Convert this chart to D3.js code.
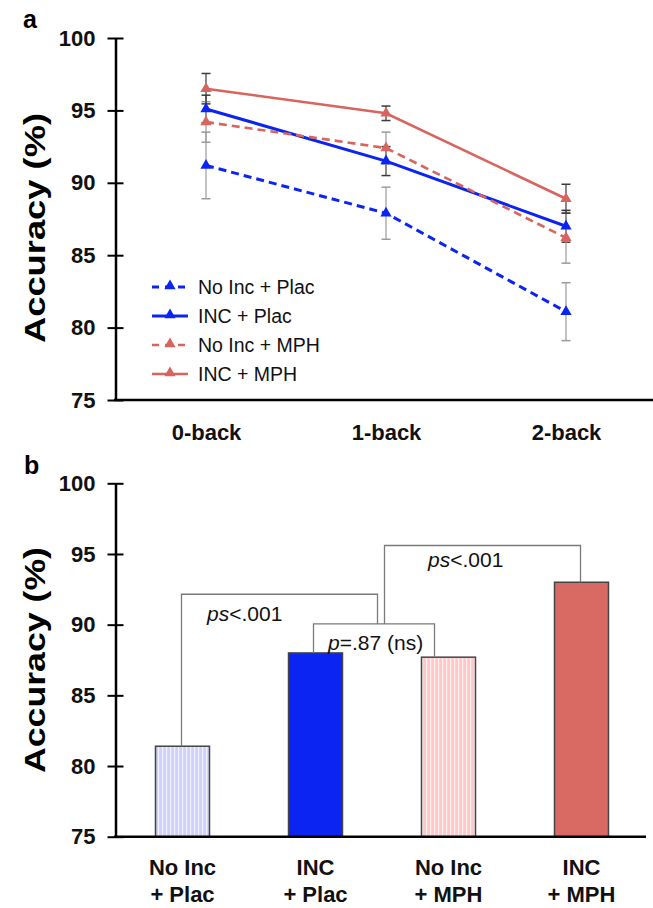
<!DOCTYPE html>
<html><head><meta charset="utf-8">
<script src="https://cdn.jsdelivr.net/npm/d3@7/dist/d3.min.js"></script>
<style>body{margin:0;background:#fff}svg{display:block}text{font-family:Arial,"Liberation Sans",sans-serif}</style>
</head><body><svg id="c" width="653" height="908"></svg>
<script>
// ---------- data ----------
const conditions = ["0-back", "1-back", "2-back"];
const seriesNames = ["No Inc + Plac", "INC + Plac", "No Inc + MPH", "INC + MPH"];
const noIncPlac = [91.2, 87.9, 81.1];
const incPlac   = [95.1, 91.5, 87.0];
const noIncMph  = [94.2, 92.4, 86.2];
const incMph    = [96.5, 94.8, 88.9];
const errNoIncPlac = [2.3, 1.8, 2.0];
const errIncPlac   = [0.95, 1.0, 1.1];
const errNoIncMph  = [1.4, 1.1, 1.75];
const errIncMph    = [1.05, 0.5, 1.0];
const yTicks = [75, 80, 85, 90, 95, 100];

const groups = ["No Inc|+ Plac", "INC|+ Plac", "No Inc|+ MPH", "INC|+ MPH"];
const groupMeans = [81.4, 88.0, 87.7, 93.0];
const statLabels = ["ps<.001", "p=.87 (ns)", "ps<.001"];

const BLUE = "#0b24f2", RED = "#d8645e";

const svg = d3.select("#c");
const defs = svg.append("defs");
function stripes(id, bg, line) {
  const p = defs.append("pattern").attr("id", id).attr("patternUnits", "userSpaceOnUse")
    .attr("width", 4).attr("height", 10);
  p.append("rect").attr("width", 4).attr("height", 10).attr("fill", bg);
  p.append("rect").attr("x", 2).attr("width", 1.2).attr("height", 10).attr("fill", line);
}
stripes("stB", "#cfd0fb", "#f2f2ff");
stripes("stR", "#ffc9c9", "#fff0f0");

// ---------- panel a ----------
const series = [
  {name: seriesNames[0], v: noIncPlac, e: errNoIncPlac, color: BLUE, dash: "8,5", w: 3, ec: "#9a9a9a"},
  {name: seriesNames[1], v: incPlac,   e: errIncPlac,   color: BLUE, dash: null,  w: 3, ec: "#3a3a3a"},
  {name: seriesNames[2], v: noIncMph,  e: errNoIncMph,  color: RED,  dash: "8,5", w: 2.6, ec: "#9a9a9a"},
  {name: seriesNames[3], v: incMph,    e: errIncMph,    color: RED,  dash: null,  w: 2.6, ec: "#3a3a3a"}
];
const xa = d3.scalePoint().domain(conditions).range([116, 656]).padding(0.5);
const ya = d3.scaleLinear().domain([75, 100]).range([400, 38]);

const gA = svg.append("g");
// error bars
series.forEach(s => {
  const g = gA.append("g");
  conditions.forEach((c, i) => {
    const x = xa(c), y1 = ya(s.v[i] + s.e[i]), y2 = ya(s.v[i] - s.e[i]);
    g.append("line").attr("x1", x).attr("x2", x).attr("y1", y1).attr("y2", y2)
      .attr("stroke", s.ec).attr("stroke-width", 1.2);
    [y1, y2].forEach(yy => g.append("line").attr("x1", x - 4.5).attr("x2", x + 4.5)
      .attr("y1", yy).attr("y2", yy).attr("stroke", s.ec).attr("stroke-width", 1.5));
  });
});
const line = d3.line().x((d, i) => xa(conditions[i])).y(d => ya(d));
const tri = d3.symbol().type(d3.symbolTriangle).size(55);
series.forEach(s => {
  gA.append("path").datum(s.v).attr("d", line).attr("fill", "none")
    .attr("stroke", s.color).attr("stroke-width", s.w)
    .attr("stroke-dasharray", s.dash);
  gA.selectAll(null).data(s.v).join("path").attr("d", tri)
    .attr("transform", (d, i) => `translate(${xa(conditions[i])},${ya(d)})`)
    .attr("fill", s.color);
});

// axes a
const axA = gA.append("g").attr("transform", "translate(115.5,0)")
  .call(d3.axisLeft(ya).tickValues(yTicks).tickSize(8).tickPadding(12).tickSizeOuter(0));
axA.select(".domain").attr("stroke-width", 2.5);
axA.selectAll(".tick line").attr("x1", 8).attr("x2", -8).attr("stroke-width", 2);
axA.selectAll("text").attr("font-size", 22).attr("font-weight", "bold").attr("fill", "#111");

const axAx = gA.append("g").attr("transform", "translate(0,400)")
  .call(d3.axisBottom(xa).tickSize(0).tickPadding(24));
axAx.select(".domain").attr("d", "M114,0H653").attr("stroke-width", 2.5);
axAx.selectAll("text").attr("font-size", 22).attr("font-weight", "bold").attr("fill", "#111");

gA.append("text").attr("x", 23).attr("y", 28).attr("font-size", 25).attr("font-weight", "bold").text("a");
gA.append("text").attr("transform", "translate(45,228) rotate(-90)").attr("text-anchor", "middle")
  .attr("font-size", 29).attr("font-weight", "bold").attr("textLength", 230)
  .attr("lengthAdjust", "spacingAndGlyphs").text("Accuracy (%)");

// legend
const leg = gA.append("g");
series.forEach((s, i) => {
  const y = 287 + i * 29;
  leg.append("line").attr("x1", 152).attr("x2", 188).attr("y1", y).attr("y2", y)
    .attr("stroke", s.color).attr("stroke-width", s.w).attr("stroke-dasharray", s.dash ? "7,6" : null);
  leg.append("path").attr("d", tri).attr("transform", `translate(170,${y - 1})`).attr("fill", s.color);
  leg.append("text").attr("x", 198).attr("y", y + 7).attr("font-size", 19.5).attr("fill", "#111").text(s.name);
});

// ---------- panel b ----------
const xb = d3.scaleBand().domain(groups).range([116, 648]).paddingInner(0.594).paddingOuter(0.297);
const yb = d3.scaleLinear().domain([75, 100]).range([836.7, 483.3]);
const gB = svg.append("g");
const fills = ["url(#stB)", BLUE, "url(#stR)", "#d96963"];
gB.selectAll(null).data(groupMeans).join("rect")
  .attr("x", (d, i) => xb(groups[i])).attr("width", xb.bandwidth())
  .attr("y", d => yb(d)).attr("height", d => yb(75) - yb(d))
  .attr("fill", (d, i) => fills[i]).attr("stroke", "#444").attr("stroke-width", 1.5);

// brackets
const cx = i => xb(groups[i]) + xb.bandwidth() / 2;
const bc = "#7a7a7a";
const h2 = yb(90.05), h1 = yb(92.15), h3 = yb(95.6);
const brk = [
  [[cx(1) - 2, yb(groupMeans[1])], [cx(1) - 2, h2], [cx(2) - 14, h2], [cx(2) - 14, yb(groupMeans[2])]],
  [[cx(0) - 1, yb(groupMeans[0])], [cx(0) - 1, h1], [cx(1) + 62, h1], [cx(1) + 62, h2]],
  [[cx(1) + 69, h2], [cx(1) + 69, h3], [cx(3) - 1, h3], [cx(3) - 1, yb(groupMeans[3])]]
];
brk.forEach(p => gB.append("path").attr("d", d3.line()(p)).attr("fill", "none")
  .attr("stroke", bc).attr("stroke-width", 1.3));

function statText(x, y, s) {
  const t = gB.append("text").attr("x", x).attr("y", y).attr("font-size", 21).attr("fill", "#111");
  t.append("tspan").attr("font-style", "italic").text(s.startsWith("ps") ? "ps" : "p");
  t.append("tspan").text(s.startsWith("ps") ? s.slice(2) : s.slice(1));
}
statText(207, 621, statLabels[0]);
statText(328, 650, statLabels[1]);
statText(428, 567, statLabels[2]);

const axB = gB.append("g").attr("transform", "translate(115.5,0)")
  .call(d3.axisLeft(yb).tickValues(yTicks).tickSize(8).tickPadding(12).tickSizeOuter(0));
axB.select(".domain").attr("stroke-width", 2.5);
axB.selectAll(".tick line").attr("x1", 8).attr("x2", -8).attr("stroke-width", 2);
axB.selectAll("text").attr("font-size", 22).attr("font-weight", "bold").attr("fill", "#111");
gB.append("line").attr("x1", 114).attr("x2", 646).attr("y1", 836.7).attr("y2", 836.7)
  .attr("stroke", "#000").attr("stroke-width", 2.5);

groups.forEach((g, i) => {
  const parts = g.split("|");
  const t = gB.append("text").attr("text-anchor", "middle").attr("font-size", 22)
    .attr("font-weight", "bold").attr("fill", "#111");
  t.append("tspan").attr("x", cx(i)).attr("y", 875).text(parts[0]);
  t.append("tspan").attr("x", cx(i)).attr("y", 902).text(parts[1]);
});

gB.append("text").attr("x", 24).attr("y", 474).attr("font-size", 25).attr("font-weight", "bold").text("b");
gB.append("text").attr("transform", "translate(45,660) rotate(-90)").attr("text-anchor", "middle")
  .attr("font-size", 29).attr("font-weight", "bold").attr("textLength", 226)
  .attr("lengthAdjust", "spacingAndGlyphs").text("Accuracy (%)");
</script></body></html>
